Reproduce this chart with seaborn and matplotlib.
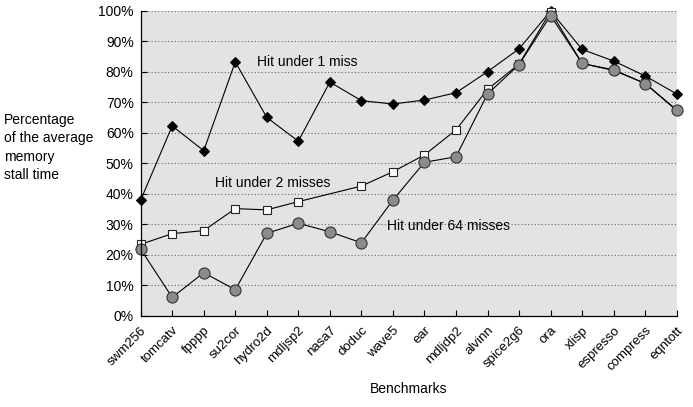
import numpy as np
import pandas as pd
import seaborn as sns
import matplotlib.pyplot as plt

# Benchmarks on the x axis
benchmarks = ["swm256", "tomcatv", "fpppp", "su2cor", "hydro2d", "mdljsp2", "nasa7",
              "doduc", "wave5", "ear", "mdljdp2", "alvinn", "spice2g6", "ora",
              "xlisp", "espresso", "compress", "eqntott"]

# Percentage of the average memory stall time
hit_1 = [38.0, 62.3, 54.2, 83.3, 65.1, 57.3, 76.7, 70.6, 69.5, 70.8, 73.2, 80.1,
         87.6, 100.0, 87.4, 83.6, 78.7, 72.8]
hit_2 = [23.5, 27.0, 28.0, 35.2, 34.8, 37.5, np.nan, 42.6, 47.3, 52.8, 61.0, 74.3,
         82.6, 99.8, 82.8, 80.5, 76.3, 67.5]
hit_64 = [21.9, 6.1, 14.2, 8.6, 27.1, 30.4, 27.6, 24.0, 38.0, 50.4, 52.2, 72.8,
          82.4, 98.5, 82.8, 80.7, 76.2, 67.4]

yticks = list(range(0, 101, 10))

plt.rcParams['font.family'] = ['Liberation Sans', 'DejaVu Sans']
plt.rcParams['font.size'] = 9

df = pd.DataFrame({"pos": np.arange(len(benchmarks)), "bench": benchmarks,
                   "hit_1": hit_1, "hit_2": hit_2, "hit_64": hit_64})

fig = plt.figure(figsize=(6.93, 4.07), dpi=100)
ax = fig.add_axes([0.203, 0.2236, 0.7735, 0.7494])
ax.set_facecolor("#e3e3e3")

styles = [
    ("hit_1", dict(marker="D", markersize=5.5, markerfacecolor="black", markeredgecolor="black")),
    ("hit_2", dict(marker="s", markersize=6, markerfacecolor="white", markeredgecolor="#222222", markeredgewidth=0.8)),
    ("hit_64", dict(marker="o", markersize=8, markerfacecolor="#8c8c8c", markeredgecolor="#333333", markeredgewidth=0.8)),
]
for col, kw in styles:
    d = df[["pos", col]].dropna()
    sns.lineplot(x=d["pos"], y=d[col], color="black", linewidth=0.8, ax=ax, **kw)

for line in ax.lines:
    line.set_clip_on(False)

# dotted horizontal grid
for y in yticks[1:]:
    ax.axhline(y, color="#666666", linewidth=0.8, linestyle=(0, (1, 2)), zorder=0.5)

ax.set_xlim(0, len(benchmarks) - 1)
ax.set_ylim(0, 100)
ax.set_xticks(df["pos"])
ax.set_xticklabels(benchmarks, rotation=45, ha="right", rotation_mode="anchor")
ax.set_yticks(yticks)
ax.set_yticklabels([f"{v}%" for v in yticks], fontsize=10)
ax.tick_params(axis="both", direction="in", length=4, width=0.8, color="black")
ax.tick_params(axis="x", labelsize=9.5, pad=6)
ax.tick_params(axis="y", pad=5)

for side in ["top", "right"]:
    ax.spines[side].set_visible(False)
for side in ["left", "bottom"]:
    ax.spines[side].set_color("black")
    ax.spines[side].set_linewidth(0.9)

ax.set_xlabel("Benchmarks", fontsize=10, labelpad=6)
ax.set_ylabel("")
fig.text(0.006, 0.638, "Percentage\nof the average\nmemory\nstall time",
         ha="left", va="center", fontsize=10, linespacing=1.4)

# series labels
ax.text(3.69, 83.3, "Hit under 1 miss", ha="left", va="center", fontsize=10)
ax.text(2.36, 43.6, "Hit under 2 misses", ha="left", va="center", fontsize=10)
ax.text(7.82, 29.5, "Hit under 64 misses", ha="left", va="center", fontsize=10)

fig.savefig("out.png", dpi=100)
